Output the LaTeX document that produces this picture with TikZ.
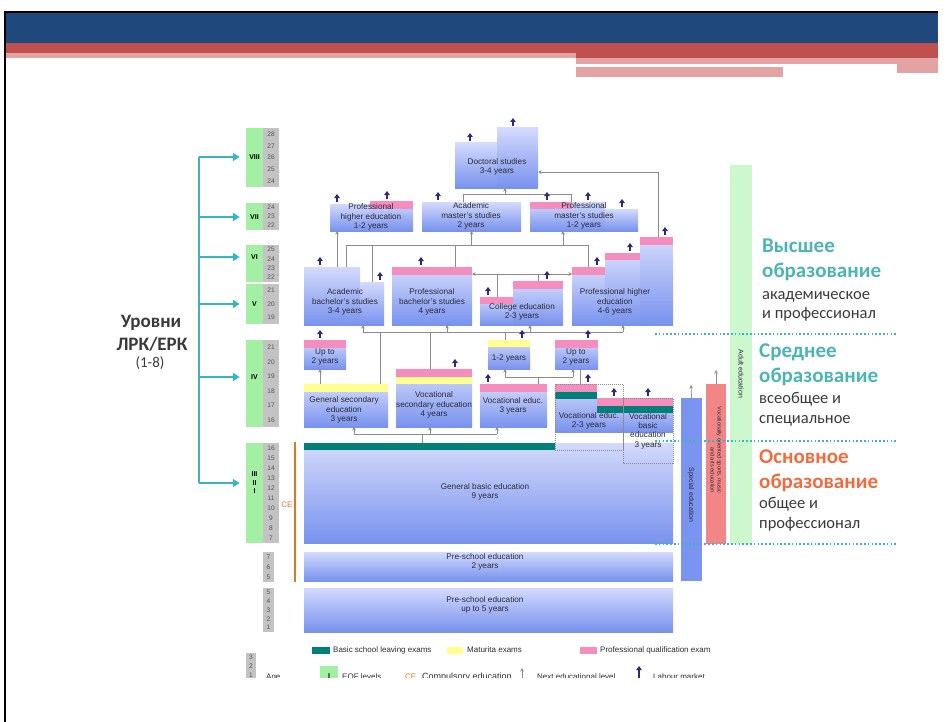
\documentclass[tikz,border=0pt]{standalone}
\usepackage{fontspec}
\setmainfont{Liberation Sans}
\newfontfamily\calfont{Carlito}
\usetikzlibrary{arrows.meta}

\definecolor{hdrblue}{HTML}{1F497D}
\definecolor{hdrred}{HTML}{C0504D}
\definecolor{hdrpink}{HTML}{E3A3A2}
\definecolor{boxtop}{HTML}{D3DAFC}
\definecolor{boxbot}{HTML}{7892EE}
\definecolor{exampink}{HTML}{F58DBE}
\definecolor{examyellow}{HTML}{FFFF8F}
\definecolor{examteal}{HTML}{008078}
\definecolor{eqfgreen}{HTML}{A3EFA3}
\definecolor{agegray}{HTML}{C3C3C3}
\definecolor{agetext}{HTML}{555555}
\definecolor{txtgray}{HTML}{2B2B38}
\definecolor{conngray}{HTML}{8C8C8C}
\definecolor{labnavy}{HTML}{2E2A78}
\definecolor{brteal}{HTML}{3BB4C1}
\definecolor{ceorange}{HTML}{E8731E}
\definecolor{specblue}{HTML}{7A94EF}
\definecolor{vocred}{HTML}{F28585}
\definecolor{adultgreen}{HTML}{CDF7CD}
\definecolor{hiteal}{HTML}{4BB5B3}
\definecolor{baseorange}{HTML}{F26B3F}
\definecolor{rugray}{HTML}{3A3A3A}

\tikzset{
  ebox/.style={rectangle, inner sep=0pt, outer sep=0pt, top color=boxtop, bottom color=boxbot},
  etext/.style={align=center, inner sep=0pt, text=txtgray, font=\fontsize{8.2}{9.3}\selectfont},
  conn/.style={draw=conngray, line width=0.8pt},
  nextlvl/.style={conn, -{Stealth[length=3.5pt,width=3.5pt]}},
  labour/.style={draw=labnavy, line width=1.7pt, -{Triangle[length=4pt,width=5.5pt]}},
  brline/.style={draw=brteal, line width=2.6pt},
  brarrow/.style={brline, -{Triangle[length=7pt,width=8pt]}, shorten >=6pt},
  eqfnum/.style={rectangle, inner sep=0pt, minimum width=17pt, align=center, text=black, font=\bfseries\fontsize{7}{8.5}\selectfont},
  agenum/.style={inner sep=0pt, text=agetext, font=\fontsize{6.6}{7}\selectfont},
  sidebar/.style={rectangle, inner sep=0pt, outer sep=0pt},
  sidetext/.style={rotate=-90, inner sep=0pt, align=right, text=txtgray, font=\fontsize{7}{7.5}\selectfont},
  dotline/.style={draw=brteal, line width=1.6pt, dash pattern=on 1.6pt off 2.2pt},
  dotbox/.style={draw=conngray, line width=0.6pt, dash pattern=on 1pt off 1pt},
  legtext/.style={anchor=west, inner sep=0pt, text=txtgray, font=\fontsize{8}{9}\selectfont},
  ruhead/.style={anchor=base west, inner sep=0pt, font=\calfont\bfseries\fontsize{21}{21}\selectfont},
  rusub/.style={anchor=base west, inner sep=0pt, text=rugray, font=\calfont\fontsize{16.5}{17}\selectfont}
}

% box from (x1,y1) to (x2,y2), pixel coordinates
\newcommand{\ebox}[5]{\node[ebox, minimum width={#4-#2}, minimum height={#5-#3}] (#1) at ({(#2+#4)/2},{(#3+#5)/2}) {};}
\newcommand{\strip}[5]{\fill[#1] (#2,#3) rectangle (#4,#5);}
\newcommand{\lm}[2]{\draw[labour] (#1,#2-2) -- (#1,#2-10);}
\newcommand{\eqf}[5]{\fill[eqfgreen] (246,#2) rectangle (263,#3);
  \node[eqfnum] (#1) at (254.5,#4) {#5};}
\newcommand{\ages}[7]{\fill[agegray] (#2,#4) rectangle (#3,#5);
  \foreach \a [count=\i] in {#7}
    \node[agenum] (#1-\i) at ({(#2+#3)/2},{#4+(\i-0.5)*(#5-#4)/#6}) {\a};}

\begin{document}
\begin{tikzpicture}[x=1pt,y=-1pt]
\useasboundingbox (0,0) rectangle (952,722);
% slide header
\fill[hdrblue] (5,13) rectangle (938,43);
\fill[hdrred] (5,43) rectangle (938,58);
\fill[hdrpink] (5,53) rectangle (576,58);
\fill[hdrpink] (576,58) rectangle (938,64);
\fill[hdrpink] (897,58) rectangle (938,73);
\fill[hdrpink] (576,67) rectangle (783,77);
\draw[black, line width=2pt] (938,12) -- (5,12) -- (5,722);

% EQF levels and ages
\eqf{lvVIII}{128}{187}{157}{VIII}
\ages{aVIII}{263}{279}{128}{187}{5}{28,27,26,25,24}
\eqf{lvVII}{203}{230}{217}{VII}
\ages{aVII}{263}{279}{203}{230}{3}{24,23,22}
\eqf{lvVI}{245}{282}{257}{VI}
\ages{aVI}{263}{279}{245}{282}{4}{25,24,23,22}
\eqf{lvV}{284}{324}{304}{V}
\ages{aV}{263}{279}{284}{324}{3}{21,20,19}
\eqf{lvIV}{340}{427}{377}{IV}
\ages{aIV}{263}{279}{340}{427}{6}{21,20,19,18,17,16}
\eqf{lvIII}{443}{543}{483}{III\\II\\I}
\ages{aIII}{263}{279}{443}{543}{10}{16,15,14,13,12,11,10,9,8,7}
\ages{aPre}{263}{274}{552}{582}{3}{7,6,5}
\ages{aKid}{263}{274}{588}{632}{5}{5,4,3,2,1}

% level bracket
\coordinate (brk) at (199,157);
\coordinate (brkend) at (199,483);
\draw[brline] (brk) -- (brkend);
\foreach \l in {lvVIII,lvVII,lvVI,lvV,lvIV,lvIII}
  \draw[brarrow] (brk |- \l) -- (\l.west);
\node[anchor=base, inner sep=0pt, text=rugray, font=\calfont\bfseries\fontsize{19}{19}\selectfont] (lvl1) at (151,327) {Уровни};
\node[anchor=base, inner sep=0pt, text=rugray, font=\calfont\bfseries\fontsize{19}{19}\selectfont] (lvl2) at (152,350) {ЛРК/ЕРК};
\node[anchor=base, inner sep=0pt, text=rugray, font=\calfont\fontsize{15}{15}\selectfont] (lvl3) at (150,367) {(1-8)};

% doctoral and master level
\ebox{docA}{455}{143}{497}{188}
\ebox{docB}{497}{128}{538}{188}
\ebox{pheA}{330}{204}{370}{231}
\ebox{pheB}{370}{201}{413}{231}
\ebox{amast}{422}{202}{521}{231}
\ebox{pmastA}{530}{202}{572}{231}
\ebox{pmastB}{572}{202}{605}{231}
\ebox{pmastC}{605}{209}{638}{231}
% bachelor level
\ebox{acbachA}{304}{267}{360}{325}
\ebox{acbachB}{360}{282}{384}{325}
\ebox{pbach}{392}{267}{472}{325}
\ebox{collA}{480}{297}{513}{325}
\ebox{collB}{513}{281}{563}{325}
\ebox{phfA}{572}{267}{605}{325}
\ebox{phfB}{605}{253}{640}{325}
\ebox{phfC}{640}{237}{673}{325}
% secondary level
\ebox{upL}{304}{340}{346}{369}
\ebox{oyr}{488}{340}{530}{369}
\ebox{upR}{555}{340}{598}{369}
\ebox{gsec}{304}{384}{388}{427}
\ebox{vsec}{396}{369}{472}{427}
\ebox{voc3}{480}{384}{547}{427}
\ebox{voc23}{555}{384}{597}{432}
\ebox{vbas}{597}{398}{673}{432}
% basic and pre-school
\ebox{gbas}{304}{443}{673}{543}
\ebox{pre2}{304}{552}{673}{581}
\ebox{pre5}{304}{588}{673}{632}

% exam strips
\strip{exampink}{370}{201}{413}{209}
\strip{exampink}{530}{202}{572}{209}
\strip{exampink}{392}{267}{472}{275}
\strip{exampink}{480}{297}{513}{304}
\strip{exampink}{513}{281}{563}{289}
\strip{exampink}{572}{267}{605}{275}
\strip{exampink}{605}{253}{640}{260}
\strip{exampink}{640}{237}{673}{245}
\strip{exampink}{304}{340}{346}{348}
\strip{examyellow}{488}{340}{530}{347}
\strip{exampink}{555}{340}{598}{348}
\strip{examyellow}{304}{384}{388}{392}
\strip{exampink}{396}{369}{472}{377}
\strip{examyellow}{396}{377}{472}{384}
\strip{exampink}{480}{384}{547}{392}
\strip{exampink}{555}{384}{597}{392}
\strip{examteal}{555}{392}{597}{399}
\strip{exampink}{597}{398}{673}{406}
\strip{examteal}{597}{406}{673}{413}
\strip{examteal}{304}{443}{555}{450}
\draw[dotbox] (555,384) rectangle (623,450);
\draw[dotbox] (623,398) rectangle (673,463);

% links to doctoral studies
\coordinate (dm1) at (463,194);
\coordinate (dm2) at (571,194);
\coordinate (dm3) at (505,194);
\coordinate (dr) at (658,172);
\draw[conn] (dm1 |- amast.north) -- (dm1) -- (dm2) -- (dm2 |- pmastA.north);
\draw[nextlvl] (dm3) -- (dm3 |- docB.south);
\draw[nextlvl] (dr |- phfC.north) -- (dr) -- (dr -| docB.east);
% links to master level
\coordinate (bm0) at (337,231);
\coordinate (bm1) at (346,245);
\coordinate (bm2) at (588,245);
\coordinate (bm3) at (455,245);
\coordinate (bm4) at (563,245);
\draw[nextlvl] (bm0 |- acbachA.north) -- (bm0 |- pheA.south);
\draw[conn] (bm1 |- acbachA.north) -- (bm1) -- (bm2) -- (bm2 |- phfA.north);
\draw[conn] (bm1 -| acbachB) -- (acbachB.north);
\draw[conn] (bm3) -- (bm3 |- pbach.north);
\draw[nextlvl] (bm1 -| amast) -- (amast.south);
\draw[nextlvl] (bm4) -- (bm4 |- pmastA.south);
\coordinate (bx1) at (497,274);
\coordinate (bx2) at (538,274);
\draw[conn, {Stealth[length=3.5pt,width=3.5pt]}-{Stealth[length=3.5pt,width=3.5pt]}] (pbach.east |- bx1) -- (phfA.west |- bx1);
\draw[conn] (bx1) -- (bx1 |- collA.north);
\draw[conn] (bx2) -- (bx2 |- collB.north);
% links to bachelor level
\coordinate (sh1) at (363,332);
\coordinate (sh2) at (623,332);
\coordinate (sh3) at (447,332);
\coordinate (sh4) at (530,332);
\coordinate (sh5) at (380,332);
\coordinate (sh6) at (430,332);
\coordinate (sh7) at (505,332);
\draw[conn] (sh1) -- (sh2);
\foreach \c/\b in {sh1/acbachA,sh3/pbach,sh4/collB,sh2/phfA}
  \draw[nextlvl] (\c) -- (\c |- \b.south);
\draw[conn] (sh5) -- (sh5 |- gsec.north);
\draw[conn] (sh6) -- (sh6 |- vsec.north);
\draw[conn] (sh7) -- (sh7 |- oyr.north);
% links inside secondary level
\coordinate (us1) at (320,376);
\coordinate (vs1) at (538,377);
\coordinate (vs2) at (505,377);
\coordinate (vs3) at (573,377);
\coordinate (vs4) at (580,377);
\draw[nextlvl] (us1 |- gsec.north) -- (us1 |- upL.south);
\draw[conn] (vs1 |- voc3.north) -- (vs1);
\draw[conn] (vs2) -- (vs3);
\draw[nextlvl] (vs2) -- (vs2 |- oyr.south);
\draw[nextlvl] (vs3) -- (vs3 |- upR.south);
\draw[conn] (vs4 |- upR.south) -- (vs4 |- voc23.north);
% links to secondary level
\coordinate (bs1) at (354,434);
\coordinate (bs2) at (497,434);
\coordinate (bs3) at (430,434);
\coordinate (bs4) at (422,434);
\draw[conn] (bs1) -- (bs2);
\foreach \c/\b in {bs1/gsec,bs3/vsec,bs2/voc3}
  \draw[nextlvl] (\c) -- (\c |- \b.south);
\draw[conn] (bs4) -- (bs4 |- gbas.north);

% box texts
\node[etext] (doc-t) at (497,167) {Doctoral studies\\3-4 years};
\node[etext] (phe-t) at (371,217) {Professional\\higher education\\1-2 years};
\node[etext] (amast-t) at (471,216) {Academic\\master's studies\\2 years};
\node[etext] (pmast-t) at (584,216) {Professional\\master's studies\\1-2 years};
\node[etext] (acbach-t) at (345,302) {Academic\\bachelor's studies\\3-4 years};
\node[etext] (pbach-t) at (432,302) {Professional\\bachelor's studies\\4 years};
\node[etext] (coll-t) at (522,312) {College education\\2-3 years};
\node[etext] (phf-t) at (615,302) {Professional higher\\education\\4-6 years};
\node[etext] (upL-t) at (325,357) {Up to\\2 years};
\node[etext] (oyr-t) at (509,358) {1-2 years};
\node[etext] (upR-t) at (576,357) {Up to\\2 years};
\node[etext] (gsec-t) at (344,410) {General secondary\\education\\3 years};
\node[etext] (vsec-t) at (434,405) {Vocational\\secondary education\\4 years};
\node[etext] (voc3-t) at (513,406) {Vocational educ.\\3 years};
\node[etext] (voc23-t) at (589,421) {Vocational educ.\\2-3 years};
\node[etext] (vbas-t) at (648,431) {Vocational\\basic\\education\\3 years};
\node[etext] (gbas-t) at (485,492) {General basic education\\9 years};
\node[etext] (pre2-t) at (485,562) {Pre-school education\\2 years};
\node[etext] (pre5-t) at (485,605) {Pre-school education\\up to 5 years};

% labour market arrows
\foreach \x/\y in {470/143,513/128,337/204,387/201,438/202,547/202,588/202,622/209,
  320/267,380/282,421/267,488/297,547/281,597/267,630/253,665/237,
  320/340,522/340,588/340,455/369,488/384,588/384,614/398,648/398}
  {\lm{\x}{\y}}

% compulsory education
\draw[ceorange, line width=2.6pt] (295,442) -- (295,582);
\node[inner sep=0pt, text=ceorange, font=\fontsize{8}{8}\selectfont] (ce) at (287,505) {CE};

% side columns
\node[sidebar, fill=specblue, minimum width=21pt, minimum height=183pt] (spec) at (691.5,489.5) {};
\node[sidebar, fill=vocred, minimum width=20pt, minimum height=160pt] (vsport) at (716,464) {};
\node[sidebar, fill=adultgreen, minimum width=22pt, minimum height=379pt] (adult) at (741,354.5) {};
\coordinate (specup) at (691,385);
\coordinate (vsportup) at (716,370);
\draw[nextlvl] (spec.north) -- (specup);
\draw[nextlvl] (vsport.north) -- (vsportup);
\node[sidetext] (spec-t) at (691,495) {Special education};
\node[sidetext, font=\fontsize{5.6}{7}\selectfont] (vsport-t) at (716,450) {Vocationally oriented sports, music\\and arts education};
\node[sidetext] (adult-t) at (741,374) {Adult education};

% russian captions
\node[ruhead, text=hiteal] (hi1) at (762,252) {Высшее};
\node[ruhead, text=hiteal] (hi2) at (762,277) {образование};
\node[rusub] (hi3) at (762,299) {академическое};
\node[rusub] (hi4) at (762,318) {и профессионал};
\node[ruhead, text=hiteal] (mid1) at (759,357) {Среднее};
\node[ruhead, text=hiteal] (mid2) at (759,382) {образование};
\node[rusub] (mid3) at (759,403) {всеобщее и};
\node[rusub] (mid4) at (759,423) {специальное};
\node[ruhead, text=baseorange] (bas1) at (759,463) {Основное};
\node[ruhead, text=baseorange] (bas2) at (759,488) {образование};
\node[rusub] (bas3) at (759,508) {общее и};
\node[rusub] (bas4) at (759,528) {профессионал};
\draw[dotline] (655,334) -- (898,334);
\draw[dotline] (655,441) -- (898,441);
\draw[dotline] (655,544) -- (898,544);

% legend
\fill[examteal] (312,647) rectangle (330,654);
\node[legtext] (lg1) at (333,650) {Basic school leaving exams};
\fill[examyellow] (447,647) rectangle (463,654);
\node[legtext] (lg2) at (467,650) {Maturita exams};
\fill[exampink] (580,647) rectangle (597,654);
\node[legtext] (lg3) at (600,650) {Professional qualification exam};
\begin{scope}
\clip (0,640) rectangle (952,677);
\ages{aLeg}{246}{256}{653}{680}{3}{3,2,1}
\node[legtext, anchor=base west] (lg4) at (266,679) {Age};
\fill[eqfgreen] (320,666) rectangle (338,686);
\node[eqfnum, minimum width=0pt] (lg5) at (329,676) {I};
\node[legtext, anchor=base west] (lg6) at (342,679) {EQF levels};
\node[legtext, anchor=base west, text=ceorange] (lg7) at (405,679) {CE};
\node[legtext, anchor=base west, font=\fontsize{9}{9}\selectfont] (lg8) at (422,679) {Compulsory education};
\coordinate (lgn) at (522,668);
\draw[nextlvl] (522,682) -- (lgn);
\node[legtext, anchor=base west] (lg9) at (537,679) {Next educational level};
\coordinate (lgl) at (639,666);
\draw[labour] (639,680) -- (lgl);
\node[legtext, anchor=base west] (lg10) at (653,679) {Labour market};
\end{scope}
\end{tikzpicture}
\end{document}
